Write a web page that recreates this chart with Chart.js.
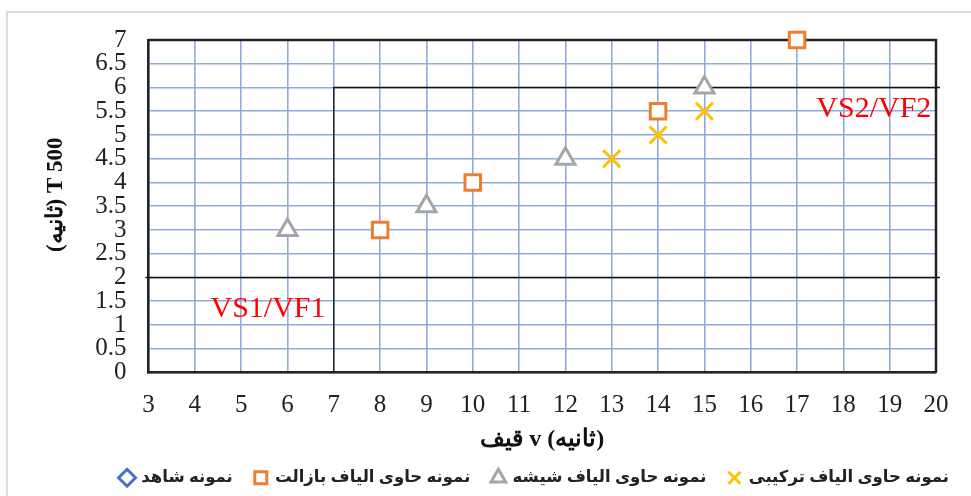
<!DOCTYPE html>
<html dir="ltr">
<head>
<meta charset="utf-8">
<script src="https://cdn.jsdelivr.net/npm/chart.js@4.4.1/dist/chart.umd.min.js"></script>
<style>
  html, body { margin: 0; padding: 0; background: #fff; }
  #wrap { width: 971px; height: 496px; position: relative; }
</style>
</head>
<body>
<div id="wrap"><canvas id="chart"></canvas></div>
<script>
// series values
const controlX = []
const controlY = []
const basaltX = [8, 10, 14, 17]
const basaltY = [3, 4, 5.5, 7]
const glassX = [6, 9, 12, 15]
const glassY = [3, 3.5, 4.5, 6]
const hybridX = [13, 14, 15]
const hybridY = [4.5, 5, 5.5]

const seriesNames = [
    'نمونه شاهد',
    'نمونه حاوی الیاف بازالت',
    'نمونه حاوی الیاف شیشه',
    'نمونه حاوی الیاف ترکیبی'
]

// zone boundaries (data units)
const zoneLow = 2
const zoneHigh = 6
const zoneSplit = 7
const zoneLabels = ['VS1/VF1', 'VS2/VF2']
const zoneLabelX = [5.58, 19.9]
const zoneLabelY = [1.33, 5.55]

const xTitle = 'قیف v (ثانیه)'
const yTitle = '\u2003(ثانیه) T 500'

Chart.defaults.font.family = "'Liberation Serif', 'Times New Roman', serif"
Chart.defaults.color = '#222'

const toPoints = (xs, ys) => xs.map((x, i) => ({ x: x, y: ys[i] }))

const zones = {
    id: 'zones',
    beforeDatasetsDraw(chart) {
        const { ctx, chartArea: a, scales: { x, y } } = chart
        ctx.save()
        // top and right of the plot frame
        ctx.strokeStyle = '#222'
        ctx.lineWidth = 2.5
        ctx.beginPath()
        ctx.moveTo(a.left, a.top)
        ctx.lineTo(a.right, a.top)
        ctx.lineTo(a.right, a.bottom)
        ctx.stroke()
        // zone lines
        ctx.lineWidth = 1.3
        ctx.strokeStyle = '#111'
        ctx.beginPath()
        ctx.moveTo(a.left - 3, y.getPixelForValue(zoneLow))
        ctx.lineTo(a.right + 4, y.getPixelForValue(zoneLow))
        ctx.moveTo(x.getPixelForValue(zoneSplit), y.getPixelForValue(0))
        ctx.lineTo(x.getPixelForValue(zoneSplit), y.getPixelForValue(zoneHigh))
        ctx.lineTo(a.right + 4, y.getPixelForValue(zoneHigh))
        ctx.stroke()
        // zone labels
        ctx.fillStyle = '#ff0000'
        ctx.font = "30px 'Liberation Serif', serif"
        ctx.textBaseline = 'middle'
        ctx.textAlign = 'center'
        ctx.fillText(zoneLabels[0], x.getPixelForValue(zoneLabelX[0]), y.getPixelForValue(zoneLabelY[0]))
        ctx.textAlign = 'right'
        ctx.fillText(zoneLabels[1], x.getPixelForValue(zoneLabelX[1]), y.getPixelForValue(zoneLabelY[1]))
        ctx.restore()
    },
    afterDraw(chart) {
        const { ctx } = chart
        ctx.save()
        ctx.strokeStyle = '#dcdcdc'
        ctx.lineWidth = 2
        ctx.beginPath()
        ctx.moveTo(7, chart.height)
        ctx.lineTo(7, 12)
        ctx.lineTo(chart.width, 12)
        ctx.stroke()
        ctx.restore()
    }
}

const makeSet = (label, pts, style, color, radius, width) => ({
    label: label,
    data: pts,
    pointStyle: style,
    borderColor: color,
    backgroundColor: '#fff',
    pointBorderColor: color,
    pointBackgroundColor: '#fff',
    pointRadius: radius,
    pointBorderWidth: width,
    borderWidth: width,
    showLine: false,
    clip: false
})

new Chart(document.getElementById('chart'), {
    type: 'scatter',
    data: {
        datasets: [
            makeSet(seriesNames[0], toPoints(controlX, controlY), 'rectRot', '#4472c4', 7, 3),
            makeSet(seriesNames[1], toPoints(basaltX, basaltY), 'rect', '#ed7d31', 11, 3),
            makeSet(seriesNames[2], toPoints(glassX, glassY), 'triangle', '#a5a5a5', 11, 3),
            makeSet(seriesNames[3], toPoints(hybridX, hybridY), 'crossRot', '#ffc000', 12, 3)
        ]
    },
    options: {
        responsive: true,
        maintainAspectRatio: false,
        animation: false,
        layout: { padding: { top: 40, right: 0, left: 0, bottom: 0 } },
        plugins: {
            tooltip: { enabled: false },
            legend: {
                position: 'bottom',
                align: 'end',
                labels: {
                    usePointStyle: true,
                    boxWidth: 12,
                    boxHeight: 12,
                    padding: 22,
                    color: '#222',
                    font: { family: "'Noto Sans', 'DejaVu Sans', sans-serif", size: 16.5, weight: 'bold' }
                }
            }
        },
        scales: {
            x: {
                type: 'linear',
                min: 3,
                max: 20,
                ticks: { stepSize: 1, autoSkip: false, padding: 18, color: '#222', font: { size: 25 } },
                grid: { color: '#8faadc', lineWidth: 1.6, drawTicks: false },
                border: { color: '#222', width: 2.5 },
                title: {
                    display: true,
                    text: xTitle,
                    color: '#111',
                    padding: { top: 4, bottom: -7 },
                    font: { family: "'Liberation Serif', 'DejaVu Serif', serif", size: 24, weight: 'bold' }
                },
                afterFit: (s) => { s.height = 75 }
            },
            y: {
                min: 0,
                max: 7,
                ticks: {
                    stepSize: 0.5,
                    autoSkip: false,
                    padding: 22,
                    color: '#222',
                    font: { size: 25 },
                    callback: (v) => String(v)
                },
                grid: { color: '#8faadc', lineWidth: 1.6, drawTicks: false },
                border: { color: '#222', width: 2.5 },
                title: {
                    display: true,
                    text: yTitle,
                    color: '#111',
                    padding: { top: 42, bottom: 0 },
                    font: { family: "'Liberation Serif', 'DejaVu Serif', serif", size: 23, weight: 'bold' }
                },
                afterFit: (s) => { s.width = 148.5 }
            },
            // empty right gutter so the legend can reach past the plot's right edge
            gutter: {
                position: 'right',
                display: true,
                ticks: { display: false },
                grid: { display: false },
                border: { display: false },
                afterFit: (s) => { s.width = 35 }
            }
        }
    },
    plugins: [zones]
})
</script>
</body>
</html>
